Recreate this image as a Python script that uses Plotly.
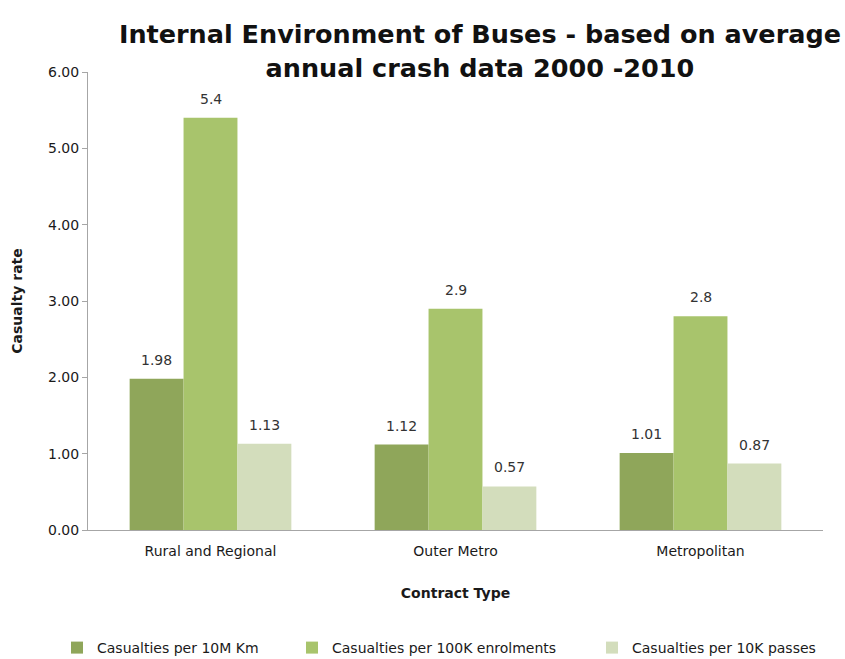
import plotly.graph_objects as go

categories = ["Rural and Regional", "Outer Metro", "Metropolitan"]
series_names = [
    "Casualties per 10M Km",
    "Casualties per 100K enrolments",
    "Casualties per 10K passes",
]
per_10m_km = [1.98, 1.12, 1.01]
per_100k_enrolments = [5.4, 2.9, 2.8]
per_10k_passes = [1.13, 0.57, 0.87]
value_labels = [
    ["1.98", "1.12", "1.01"],
    ["5.4", "2.9", "2.8"],
    ["1.13", "0.57", "0.87"],
]
y_ticks = [0, 1, 2, 3, 4, 5, 6]

colors = ["#8FA65A", "#A8C46C", "#D3DDBC"]
font_family = "'DejaVu Sans', sans-serif"
text_color = "#1a1a1a"

series = [per_10m_km, per_100k_enrolments, per_10k_passes]
legend_ids = ["legend", "legend2", "legend3"]

fig = go.Figure()
for name, vals, col, lid in zip(series_names, series, colors, legend_ids):
    fig.add_trace(go.Bar(
        x=categories, y=vals, name=name,
        marker=dict(color=col, line=dict(width=0)),
        legend=lid, showlegend=True,
    ))

# value labels above each bar
offsets = [-1, 0, 1]
for vals, labels, off in zip(series, value_labels, offsets):
    for i, (v, lab) in enumerate(zip(vals, labels)):
        fig.add_annotation(
            x=i + off * 0.22, y=v, xref="x", yref="y",
            text=lab, showarrow=False, yshift=19,
            font=dict(size=14, color="#333333", family=font_family),
        )

legend_style = dict(
    orientation="h", yanchor="middle", xref="container", yref="container",
    y=1 - 648 / 659, xanchor="left",
    font=dict(size=14, color=text_color, family=font_family),
    bgcolor="rgba(0,0,0,0)", itemwidth=30, tracegroupgap=0,
)

fig.update_layout(
    width=845, height=659,
    margin=dict(l=88, r=22, t=72, b=129, autoexpand=False),
    paper_bgcolor="white", plot_bgcolor="white",
    barmode="group", bargap=0.34, bargroupgap=0,
    font=dict(family=font_family, color=text_color),
    title=dict(
        text="<b>Internal Environment of Buses - based on average<br>annual crash data 2000 -2010</b>",
        x=0.568, xref="container", xanchor="center",
        y=0.934, yref="container", yanchor="middle",
        font=dict(size=25.5, color="#111111", family=font_family),
    ),
    xaxis=dict(
        range=[-0.5, 2.5],
        showline=True, linecolor="#a6a6a6", linewidth=1,
        ticks="", showgrid=False, ticklabelstandoff=8,
        tickfont=dict(size=14, color=text_color),
        title=dict(text="<b>Contract Type</b>", font=dict(size=14, color=text_color), standoff=30),
    ),
    yaxis=dict(
        range=[0, 6], tickvals=y_ticks, tickformat=".2f",
        showline=True, linecolor="#a6a6a6", linewidth=1,
        ticks="outside", ticklen=5, tickcolor="#a6a6a6",
        showgrid=False, zeroline=False,
        tickfont=dict(size=14, color=text_color),
        title=dict(text="<b>Casualty rate</b>", font=dict(size=14, color=text_color), standoff=22),
    ),
    legend=dict(legend_style, x=57 / 845),
    legend2=dict(legend_style, x=292 / 845),
    legend3=dict(legend_style, x=592 / 845),
)

fig.write_html("out.html")
